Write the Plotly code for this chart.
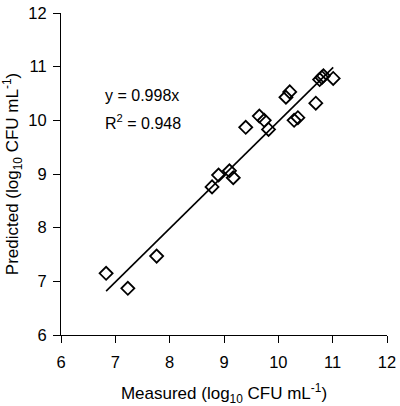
import plotly.graph_objects as go

measured = [6.83, 7.23, 7.76, 8.78, 8.90, 9.10, 9.17, 9.40, 9.65, 9.74,
            9.82, 10.14, 10.21, 10.29, 10.36, 10.69, 10.76, 10.80, 10.83, 11.01]
predicted = [7.15, 6.87, 7.47, 8.76, 8.98, 9.06, 8.93, 9.87, 10.08, 10.00,
             9.83, 10.43, 10.53, 10.00, 10.05, 10.32, 10.76, 10.80, 10.83, 10.78]
slope = 0.998
r2 = 0.948
ticks = [6, 7, 8, 9, 10, 11, 12]

x_line = [min(measured), max(measured)]
y_line = [slope * v for v in x_line]

font = "Liberation Sans, Arial, sans-serif"

fig = go.Figure()
fig.add_trace(go.Scatter(x=x_line, y=y_line, mode="lines",
                         line=dict(color="black", width=1.6), showlegend=False))
fig.add_trace(go.Scatter(x=measured, y=predicted, mode="markers",
                         marker=dict(symbol="diamond-open", size=10, color="black",
                                     line=dict(color="black", width=1.8)),
                         showlegend=False))

fig.add_annotation(x=6.78, y=10.46, xref="x", yref="y", text=f"y = {slope}x",
                   showarrow=False, xanchor="left", yanchor="middle",
                   font=dict(family=font, size=16, color="black"))
fig.add_annotation(x=6.78, y=9.96, xref="x", yref="y", text=f"R<sup>2</sup> = {r2}",
                   showarrow=False, xanchor="left", yanchor="middle",
                   font=dict(family=font, size=16, color="black"))

axis_common = dict(range=[6, 12], tickvals=ticks, ticks="outside", ticklen=7,
                   tickwidth=1, tickcolor="black", showline=True, linecolor="black",
                   linewidth=1, showgrid=False, zeroline=False, automargin=False,
                   tickfont=dict(family=font, size=16.5, color="black"))

fig.update_xaxes(title=dict(text="Measured (log<sub>10</sub> CFU mL<sup>-1</sup>)",
                            font=dict(family=font, size=17, color="black"), standoff=18),
                 ticklabelstandoff=5, **axis_common)
fig.update_yaxes(title=dict(text="Predicted (log<sub>10</sub> CFU mL<sup>-1</sup>)",
                            font=dict(family=font, size=17, color="black"), standoff=10),
                 ticklabelstandoff=3, **axis_common)

fig.update_layout(width=400, height=406, margin=dict(l=61, r=13, t=13, b=71),
                  plot_bgcolor="white", paper_bgcolor="white")

fig.write_html("out.html", config={"displayModeBar": False},
               post_script="document.body.style.margin='0';document.body.style.overflow='hidden';")
